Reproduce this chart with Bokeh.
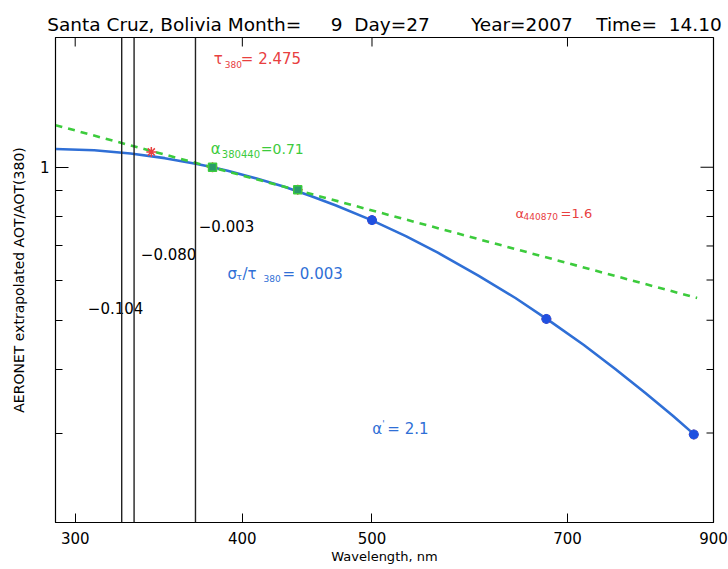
import math
from bokeh.plotting import figure
from bokeh.models import Range1d, FixedTicker, Span, BasicTickFormatter
from bokeh.core.properties import value
from bokeh.embed import file_html
from bokeh.resources import INLINE

FONT = "DejaVu Sans"
NB = "\u00a0"

# ---- data ----
x_range = [290, 900]
y_range = [0.2, 1.8]
x_ticks = [300, 400, 500, 700, 900]
y_major = [1.0]
y_minor = [0.3, 0.4, 0.5, 0.6, 0.7, 0.8, 0.9]

# fitted (second-order) curve, AOT/AOT(380)
curve_wl = [290, 310, 330, 350, 370, 380, 390, 410, 430, 450, 470, 500, 530, 560, 600, 640, 680, 720, 760,
            800, 840, 870]
curve_ratio = [1.086, 1.080, 1.064, 1.042, 1.015, 1.0, 0.984, 0.950, 0.915, 0.878, 0.841, 0.786, 0.732, 0.679,
               0.613, 0.553, 0.497, 0.447, 0.401, 0.360, 0.3235, 0.2985]

# Angstrom 380/440 power-law line
alpha_wl = [290, 875]
alpha_ratio = [1.21, 0.553]

# measured points
meas_wl = [342, 380, 440, 500, 675, 870]
meas_ratio = [1.072, 1.0, 0.903, 0.787, 0.503, 0.298]
green_wl = [380, 440]
green_ratio = [1.0, 0.903]
blue_wl = [500, 675, 870]
blue_ratio = [0.787, 0.503, 0.298]

# vertical marker lines with their labels
vline_wl = [325, 332, 369]
vline_text = ["\u22120.104", "\u22120.080", "\u22120.003"]
vline_text_x = [306.6, 335.9, 371.1]
vline_text_y = [0.528, 0.675, 0.766]

site = "Santa Cruz, Bolivia"
month, day, year, time_str = "9", "27", "2007", "14.10"
title_text = (site + NB + "Month=" + NB * 5 + month + NB * 2 + "Day=" + day + NB * 7 +
              "Year=" + year + NB * 4 + "Time=" + NB * 2 + time_str)

RED = "#e8403f"
GREEN = "#3ccb3c"
BLUE = "#2f6fd6"

p = figure(width=728, height=569, x_axis_type="log", y_axis_type="log",
           x_range=Range1d(*x_range), y_range=Range1d(*y_range),
           output_backend="svg", toolbar_location=None,
           min_border_left=55, min_border_right=15, min_border_top=37, min_border_bottom=47)
p.xgrid.visible = False
p.ygrid.visible = False
p.outline_line_color = "black"
p.outline_line_width = 1.2
p.background_fill_color = "white"
p.border_fill_color = "white"

p.title.text = title_text
p.title.text_font = FONT
p.title.text_font_size = "18.5px"
p.title.text_font_style = "normal"
p.title.text_color = "black"
p.title.align = "left"
p.title.offset = -8.3
p.title.standoff = 6

# bottom axis
xa = p.xaxis[0]
xa.ticker = FixedTicker(ticks=x_ticks, minor_ticks=[])
xa.formatter = BasicTickFormatter()
xa.major_tick_in = 9
xa.major_tick_out = 0
xa.minor_tick_in = 0
xa.minor_tick_out = 0
xa.axis_line_color = "black"
xa.major_tick_line_color = "black"
xa.major_label_text_font = FONT
xa.major_label_text_font_size = "15px"
xa.major_label_text_color = "black"
xa.major_label_standoff = 9
xa.axis_label = "Wavelength, nm"
xa.axis_label_text_font = FONT
xa.axis_label_text_font_size = "13px"
xa.axis_label_text_font_style = "normal"
xa.axis_label_text_color = "black"
xa.axis_label_standoff = 2

# left axis
ya = p.yaxis[0]
ya.ticker = FixedTicker(ticks=y_major, minor_ticks=y_minor)
ya.formatter = BasicTickFormatter()
ya.major_label_overrides = {1: "1"}
ya.major_tick_in = 13
ya.major_tick_out = 0
ya.minor_tick_in = 7
ya.minor_tick_out = 0
ya.axis_line_color = "black"
ya.major_tick_line_color = "black"
ya.minor_tick_line_color = "black"
ya.major_label_text_font = FONT
ya.major_label_text_font_size = "15px"
ya.major_label_text_color = "black"
ya.major_label_standoff = 6
ya.axis_label = "AERONET extrapolated AOT/AOT(380)"
ya.axis_label_text_font = FONT
ya.axis_label_text_font_size = "14px"
ya.axis_label_text_font_style = "normal"
ya.axis_label_text_color = "black"
ya.axis_label_standoff = 10

# tick marks on the top and right frame edges (pointing inward)
p.ray(x=x_ticks, y=[y_range[1]] * len(x_ticks), length=9, angle=-math.pi / 2,
      length_units="screen", line_color="black", line_width=1)
p.ray(x=[x_range[1]] * len(y_minor), y=y_minor, length=7, angle=math.pi,
      length_units="screen", line_color="black", line_width=1)
p.ray(x=[x_range[1]] * len(y_major), y=y_major, length=13, angle=math.pi,
      length_units="screen", line_color="black", line_width=1)

# vertical lines
for w in vline_wl:
    p.add_layout(Span(location=w, dimension="height", line_color="#222222", line_width=1.4))

# curves
p.line(curve_wl, curve_ratio, line_color=BLUE, line_width=2.6)
p.line(alpha_wl, alpha_ratio, line_color=GREEN, line_width=2.6, line_dash="7 6")

# markers
p.scatter(meas_wl, meas_ratio, marker="asterisk", size=10, line_color=RED, line_width=1.5)
p.scatter(blue_wl, blue_ratio, marker="circle", size=9, fill_color="#2050e0", line_color="#2050e0")
p.scatter(green_wl, green_ratio, marker="square", size=8, fill_color="#2a9a6a", line_color=GREEN, line_width=1.5)


def piece(x, y, txt, color, size, dx=0, dy=0):
    p.text(x=[x], y=[y], text=[txt], text_color=color, text_font=value(FONT),
           text_font_size=f"{size}px", x_offset=dx, y_offset=dy,
           text_align="left", text_baseline="middle")


# vertical line labels
for tx, ty, t in zip(vline_text_x, vline_text_y, vline_text):
    piece(tx, ty, t, "black", 15)

# tau_380 = 2.475
piece(380.85, 1.630, "\u03c4", RED, 15)
piece(380.85, 1.630, "380", RED, 9, dx=11, dy=5)
piece(380.85, 1.630, "= 2.475", RED, 15, dx=27)

# alpha_380440 = 0.71
piece(378.9, 1.085, "\u03b1", GREEN, 15)
piece(378.9, 1.085, "380440", GREEN, 10, dx=11, dy=5)
piece(378.9, 1.085, "=0.71", GREEN, 14, dx=50)

# alpha_440870 = 1.6
piece(640.2, 0.812, "\u03b1", RED, 13)
piece(640.2, 0.812, "440870", RED, 9, dx=8, dy=3)
piece(640.2, 0.812, "=1.6", RED, 13, dx=45)

# sigma_tau / tau_380 = 0.003
piece(389.9, 0.6164, "\u03c3", BLUE, 15)
piece(389.9, 0.6164, "\u03c4", BLUE, 9, dx=9, dy=3)
piece(389.9, 0.6164, "/\u03c4", BLUE, 15, dx=15)
piece(389.9, 0.6164, "380", BLUE, 9, dx=36, dy=4)
piece(389.9, 0.6164, "= 0.003", BLUE, 15, dx=55)

# alpha' = 2.1
piece(500.3, 0.3053, "\u03b1", BLUE, 15)
piece(500.3, 0.3053, "'", BLUE, 9, dx=10, dy=-5)
piece(500.3, 0.3053, "= 2.1", BLUE, 15, dx=15)

open("out.html", "w").write(file_html(p, INLINE))
